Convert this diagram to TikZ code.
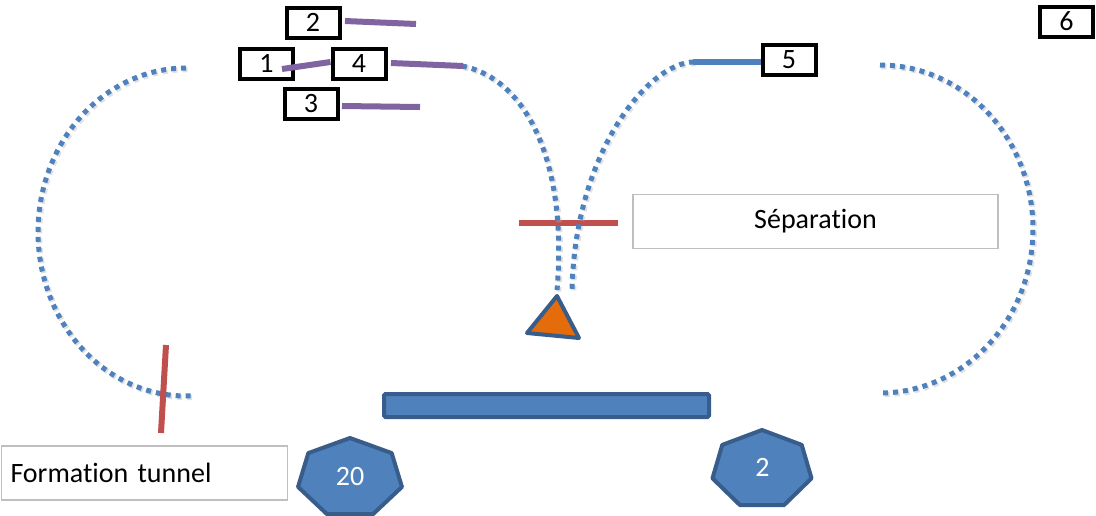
\documentclass[tikz,border=0pt]{standalone}
\usepackage{fontspec}
\setmainfont{Carlito}[Ligatures=NoCommon]
\definecolor{obl}{HTML}{4F81BD}
\definecolor{odb}{HTML}{385D8A}
\definecolor{ored}{HTML}{C0504D}
\definecolor{opur}{HTML}{8064A2}
\definecolor{oorg}{HTML}{E46C0A}
\definecolor{ogry}{HTML}{BFBFBF}
\begin{document}
\begin{tikzpicture}[x=1pt,y=-1pt,
  numbox/.style={draw=black, line width=4pt, fill=white, minimum width=53pt, minimum height=30pt, inner sep=0pt, font=\fontsize{28}{30}\selectfont},
  labelbox/.style={draw=ogry, line width=1.5pt, fill=white, minimum height=54pt, inner sep=0pt, font=\fontsize{28}{30}\selectfont},
  track/.style={obl, line width=5pt, dash pattern=on 5pt off 5pt},
  trackshadow/.style={black!30, opacity=0.4, line width=5.5pt, dash pattern=on 5pt off 5pt, shift={(1.5,1.5)}},
  bar/.style={line width=6pt},
  hepta/.style={draw=odb, fill=obl, line width=4pt, line join=round},
  hlabel/.style={white, font=\fontsize{28}{30}\selectfont, inner sep=0pt}]
\useasboundingbox (0,0) rectangle (1096,515);

% red bar of separation (under the tracks)
\coordinate (sepL) at (519,223);
\coordinate (sepR) at (618,223);
\draw[bar, ored] (sepL) -- (sepR);

% track shadows
\draw[trackshadow] plot[domain=90:273,samples=90] ({186+148*cos(\x)},{232-164*sin(\x)});
\draw[trackshadow] plot[domain=90:-90,samples=90] ({880+153*cos(\x)},{229-164*sin(\x)});
\draw[trackshadow] (462,66) .. controls (525,78) and (568,160) .. (557,290);
\draw[trackshadow] (694,62) .. controls (650,62) and (575,150) .. (572,290);
% tracks
\draw[track] plot[domain=90:273,samples=90] ({186+148*cos(\x)},{232-164*sin(\x)});
\draw[track] plot[domain=90:-90,samples=90] ({880+153*cos(\x)},{229-164*sin(\x)});
\draw[track] (462,66) .. controls (525,78) and (568,160) .. (557,290);
\draw[track] (694,62) .. controls (650,62) and (575,150) .. (572,290);

% red bar of tunnel formation
\coordinate (ftT) at (166,345);
\coordinate (ftB) at (161,433);
\draw[bar, ored] (ftT) -- (ftB);

% label boxes
\node[labelbox, minimum width=365pt] (sep) at (815.5,221.5) {Séparation};
\node[labelbox, anchor=west, text width=268pt, inner xsep=9pt, align=left] (ft) at (0.75,473) {Formation tunnel};

% numbered boxes and their lines
\node[numbox] (b2) at (313,22.5) {2};
\node[numbox] (b1) at (266.5,63.5) {1};
\node[numbox] (b3) at (311,103.5) {3};
\coordinate (l2a) at (345,21);  \coordinate (l2b) at (416,24);
\coordinate (l3a) at (342,106); \coordinate (l3b) at (420,107);
\coordinate (l1a) at (282,69);
\coordinate (l4a) at (391,63);  \coordinate (l4b) at (463,66);
\draw[bar, opur] (l2a) -- (l2b);
\draw[bar, opur] (l3a) -- (l3b);
\draw[bar, opur] (l4a) -- (l4b);
\node[numbox] (b4) at (359,64) {4};
\draw[bar, opur] (l1a) -- ([yshift=2pt]b4.west);
\node[numbox] (b5) at (789,60) {5};
\coordinate (l5a) at (693,62);
\draw[bar, obl] (l5a) -- (l5a -| b5.west);
\node[numbox] (b6) at (1066.5,21.5) {6};

% junction triangle
\draw[draw=odb, fill=oorg, line width=4pt, line join=round] (557,296) -- (527,333) -- (579,338) -- cycle;

% platform
\draw[draw=odb, fill=obl, line width=4pt, rounded corners=1.5pt] (384,394) rectangle (709,417);

% heptagons
\draw[hepta] plot[samples at={0,...,6}] ({350+53.3*cos(90+\x*360/7)},{478-40*sin(90+\x*360/7)}) -- cycle;
\node[hlabel] (h20) at (350,477) {20};
\draw[hepta] plot[samples at={0,...,6}] ({762+50.8*cos(90+\x*360/7)},{469.5-39.5*sin(90+\x*360/7)}) -- cycle;
\node[hlabel] (h2) at (762.5,467.5) {2};
\end{tikzpicture}
\end{document}
